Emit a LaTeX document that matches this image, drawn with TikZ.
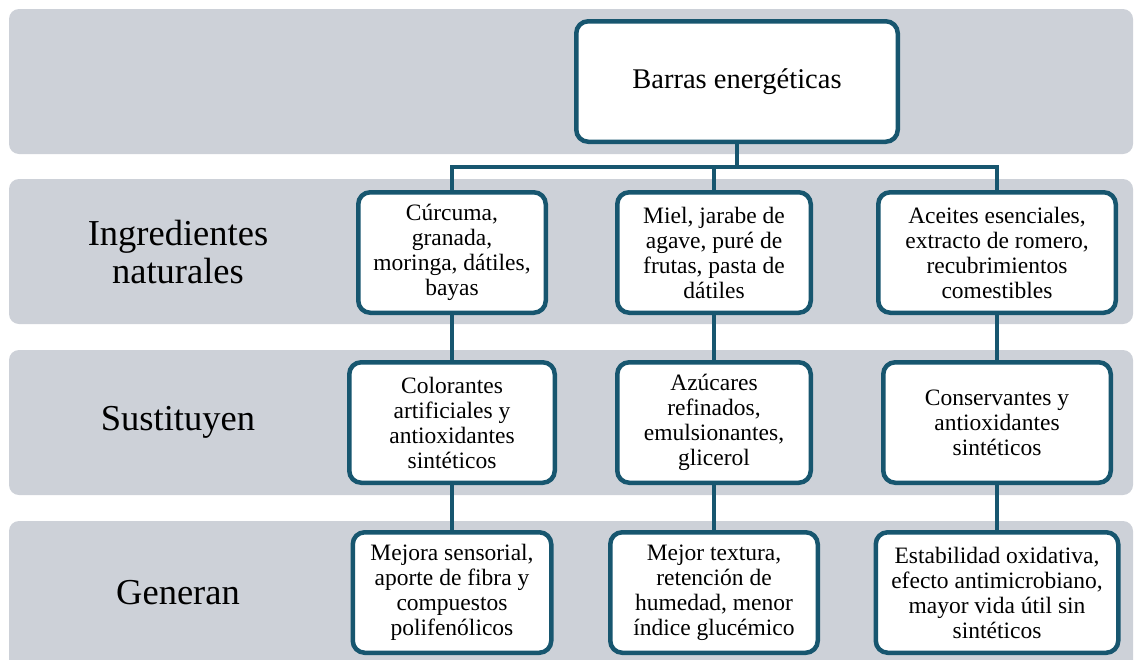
\documentclass[tikz,border=0pt]{standalone}
\usepackage{fontspec}
\setmainfont{Liberation Serif}
\definecolor{bandgray}{HTML}{CDD1D8}
\definecolor{teal}{HTML}{17566F}
\tikzset{
  band/.style={fill=bandgray, draw=none, rounded corners=10pt},
  box/.style={draw=teal, fill=white, line width=4.5pt, rounded corners=12pt,
    align=center, inner sep=0pt, minimum height=120.5pt,
    font=\fontsize{23.5}{25}\selectfont},
  topbox/.style={box, font=\fontsize{28.5}{30}\selectfont},
  rowlabel/.style={align=center, font=\fontsize{36.5}{38}\selectfont},
  conn/.style={draw=teal, line width=4pt}
}
\begin{document}
\begin{tikzpicture}[x=1pt,y=-1pt]
\useasboundingbox (0,0) rectangle (1135,659);
\begin{scope}
\clip (0,0) rectangle (1135,659);
\fill[band] (9,9) rectangle (1133,154);
\fill[band] (9,179) rectangle (1133,324);
\fill[band] (9,350) rectangle (1133,495);
\fill[band] (9,521) rectangle (1133,670);
\end{scope}

\node[rowlabel] (l1) at (178,252) {Ingredientes\\naturales};
\node[rowlabel] (l2) at (178,422.5) {Sustituyen};
\node[rowlabel] (l3) at (178,593) {Generan};

\coordinate (j) at (737,167);

\node[topbox, minimum width=321.5pt] (top) at (737,81.5) {Barras energéticas};

\node[box, minimum width=187.5pt] (a1) at (452,252.5) {Cúrcuma,\\granada,\\moringa, dátiles,\\bayas};
\node[box, minimum width=193.5pt] (a2) at (714,252.5) {Miel, jarabe de\\agave, puré de\\frutas, pasta de\\dátiles};
\node[box, minimum width=237.5pt] (a3) at (997,252.5) {Aceites esenciales,\\extracto de romero,\\recubrimientos\\comestibles};

\node[box, minimum width=205.5pt] (b1) at (452,422.5) {Colorantes\\artificiales y\\antioxidantes\\sintéticos};
\node[box, minimum width=193.5pt] (b2) at (714,422.5) {Azúcares\\refinados,\\emulsionantes,\\glicerol};
\node[box, minimum width=227.5pt] (b3) at (997,422.5) {Conservantes y\\antioxidantes\\sintéticos};

\node[box, minimum width=198.5pt] (c1) at (452,592.5) {Mejora sensorial,\\aporte de fibra y\\compuestos\\polifenólicos};
\node[box, minimum width=207.5pt] (c2) at (714,592.5) {Mejor textura,\\retención de\\humedad, menor\\índice glucémico};
\node[box, minimum width=242.5pt] (c3) at (997,592.5) {Estabilidad oxidativa,\\efecto antimicrobiano,\\mayor vida útil sin\\sintéticos};

\draw[conn] (top.south) -- (j);
\draw[conn] (a1.north) -- (a1.north |- j) -- (a3.north |- j) -- (a3.north);
\draw[conn] (a2.north) -- (a2.north |- j);
\draw[conn] (a1.south) -- (b1.north);
\draw[conn] (a2.south) -- (b2.north);
\draw[conn] (a3.south) -- (b3.north);
\draw[conn] (b1.south) -- (c1.north);
\draw[conn] (b2.south) -- (c2.north);
\draw[conn] (b3.south) -- (c3.north);
\end{tikzpicture}
\end{document}
